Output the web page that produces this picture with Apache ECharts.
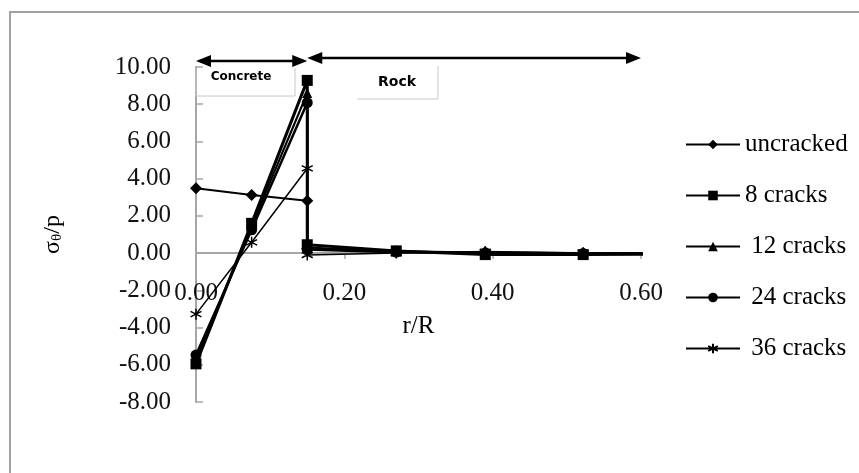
<!DOCTYPE html>
<html>
<head>
<meta charset="utf-8">
<script src="https://cdn.jsdelivr.net/npm/echarts@6/dist/echarts.min.js"></script>
<style>
  html, body { margin: 0; padding: 0; background: #fff; }
  #chart { width: 859px; height: 473px; }
</style>
</head>
<body>
<div id="chart"></div>
<script>
// r/R positions (two points at the concrete/rock interface)
const rR = [0, 0.075, 0.15, 0.15, 0.27, 0.39, 0.522, 0.66];

const uncracked = [3.48, 3.12, 2.81, 0.25, 0.10, 0.03, 0.00, 0.00];
const cracks8   = [-5.95, 1.60, 9.28, 0.45, 0.12, -0.08, -0.08, -0.05];
const cracks12  = [-5.70, 1.45, 8.60, 0.30, 0.08, 0.02, -0.03, -0.02];
const cracks24  = [-5.48, 1.25, 8.08, 0.20, 0.05, 0.02, -0.02, -0.02];
const cracks36  = [-3.28, 0.58, 4.55, -0.10, 0.00, 0.08, 0.00, -0.01];

const seriesNames = ['uncracked', '8 cracks', ' 12 cracks', ' 24 cracks', ' 36 cracks'];

const xRange = [0, 0.6];
const yRange = [-8, 10];

// zone annotations
const zoneEdges = [0, 0.15, 0.6];
const zoneNames = ['Concrete', 'Rock'];

const FONT = '"Liberation Serif", "Times New Roman", serif';
const asterisk = 'path://M5,0L5,10M0.67,2.5L9.33,7.5M0.67,7.5L9.33,2.5';

const gridTop = 67, gridBottom = 71, H = 473;
const plotH = H - gridTop - gridBottom;
// move the x axis up to y = 0
const zeroOffset = -plotH * (0 - yRange[0]) / (yRange[1] - yRange[0]);

const pairs = (ys) => ys.map((y, i) => [rR[i], y]);

const chart = echarts.init(document.getElementById('chart'));

const mkSeries = (name, ys, symbol, size, width) => ({
  name: name,
  type: 'line',
  data: pairs(ys),
  symbol: symbol,
  symbolSize: size,
  showAllSymbol: true,
  lineStyle: { color: '#000', width: width },
  itemStyle: symbol === asterisk
    ? { color: '#000', borderColor: '#000', borderWidth: 1.5 }
    : { color: '#000' },
  emphasis: { disabled: true },
  animation: false
});

chart.setOption({
  backgroundColor: '#fff',
  animation: false,
  grid: { left: 196, right: 218, top: gridTop, bottom: gridBottom, containLabel: false, outerBoundsMode: 'none' },
  legend: {
    orient: 'vertical',
    left: 685,
    top: 132,
    padding: 0,
    itemWidth: 54,
    itemHeight: 12,
    itemGap: 26,
    textStyle: { fontFamily: FONT, fontSize: 25, color: '#000' },
    data: seriesNames
  },
  xAxis: {
    type: 'value',
    min: xRange[0],
    max: xRange[1],
    interval: 0.2,
    offset: zeroOffset,
    name: 'r/R',
    nameLocation: 'middle',
    nameGap: 61,
    nameTextStyle: { fontFamily: FONT, fontSize: 25, color: '#000' },
    axisLine: { onZero: false, lineStyle: { color: '#a6a6a6', width: 2 } },
    axisTick: { show: true, inside: false, length: 6, lineStyle: { color: '#a6a6a6', width: 1.5 } },
    axisLabel: {
      margin: 28,
      fontFamily: FONT, fontSize: 25, color: '#111',
      formatter: (v) => v.toFixed(2)
    },
    splitLine: { show: false }
  },
  yAxis: {
    type: 'value',
    min: yRange[0],
    max: yRange[1],
    interval: 2,
    name: '{a|σ}{b|θ}{a|/p}',
    nameLocation: 'middle',
    nameGap: 131,
    nameTextStyle: {
      fontFamily: FONT, color: '#000',
      rich: {
        a: { fontFamily: FONT, fontSize: 24, color: '#000' },
        b: { fontFamily: FONT, fontSize: 15, color: '#000', verticalAlign: 'bottom', padding: [10, 0, 0, 0] }
      }
    },
    axisLine: { show: true, lineStyle: { color: '#a6a6a6', width: 2 } },
    axisTick: { show: true, inside: true, length: 7, lineStyle: { color: '#a6a6a6', width: 1.5 } },
    axisLabel: {
      margin: 25,
      fontFamily: FONT, fontSize: 25, color: '#111',
      formatter: (v) => v.toFixed(2)
    },
    splitLine: { show: false }
  },
  series: [
    mkSeries(seriesNames[0], uncracked, 'diamond', 12, 2),
    mkSeries(seriesNames[1], cracks8, 'rect', 11, 3),
    mkSeries(seriesNames[2], cracks12, 'triangle', 10, 2.2),
    mkSeries(seriesNames[3], cracks24, 'circle', 11, 2.5),
    mkSeries(seriesNames[4], cracks36, asterisk, 11, 1.5)
  ]
});

// zone arrows + labels, placed from the x scale
const px = (x) => chart.convertToPixel({ gridIndex: 0 }, [x, 0])[0];
const arrowRows = [61, 58];
const arrow = (x1, x2, y) => {
  const h = 15, w = 6;
  return [
    { type: 'line', shape: { x1: x1 + h - 2, y1: y, x2: x2 - h + 2, y2: y }, style: { stroke: '#000', lineWidth: 2.5 }, z: 10 },
    { type: 'polygon', shape: { points: [[x1, y], [x1 + h, y - w], [x1 + h, y + w]] }, style: { fill: '#000' }, z: 10 },
    { type: 'polygon', shape: { points: [[x2, y], [x2 - h, y - w], [x2 - h, y + w]] }, style: { fill: '#000' }, z: 10 }
  ];
};

const graphics = [
  // outer chart border
  { type: 'rect', shape: { x: 10, y: 12, width: 900, height: 500 }, style: { fill: null, stroke: '#a0a0a0', lineWidth: 2 }, z: 0 },
  // Concrete text box
  { type: 'rect', shape: { x: 197, y: 68, width: 98, height: 28 }, style: { fill: '#fff' }, z: 8 },
  { type: 'polyline', shape: { points: [[196, 68], [196, 96], [295, 96], [295, 68]] }, style: { stroke: '#c8c8c8', lineWidth: 1, fill: null }, z: 9 },
  { type: 'text', style: { text: zoneNames[0], x: 241, y: 77, align: 'center', verticalAlign: 'middle', fontFamily: '"DejaVu Sans", sans-serif', fontWeight: 'bold', fontSize: 12, fill: '#000' }, z: 11 },
  // Rock text box
  { type: 'rect', shape: { x: 357, y: 66, width: 81, height: 33 }, style: { fill: '#fff' }, z: 8 },
  { type: 'polyline', shape: { points: [[357, 99], [438, 99], [438, 66]] }, style: { stroke: '#c8c8c8', lineWidth: 1, fill: null }, z: 9 },
  { type: 'text', style: { text: zoneNames[1], x: 397, y: 82, align: 'center', verticalAlign: 'middle', fontFamily: '"DejaVu Sans", sans-serif', fontWeight: 'bold', fontSize: 14, fill: '#000' }, z: 11 }
];
for (let i = 0; i < zoneNames.length; i++) {
  graphics.push(...arrow(px(zoneEdges[i]), px(zoneEdges[i + 1]), arrowRows[i]));
}
chart.setOption({ graphic: graphics });
</script>
</body>
</html>
